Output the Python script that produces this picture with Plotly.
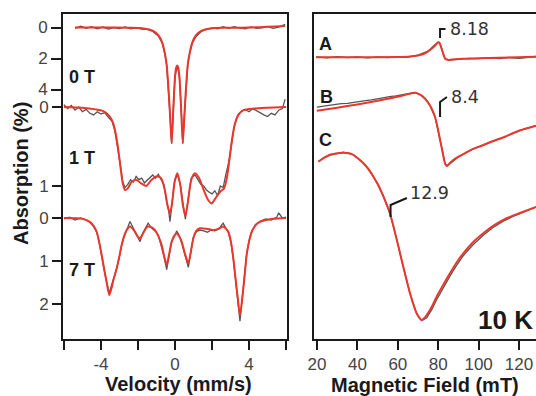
import plotly.graph_objects as go

# ---------------- Mössbauer data (velocity mm/s, absorption %) ----------------
v0_fit = [-5.4, -4.0, -2.5, -1.7, -1.2, -0.9, -0.7, -0.55, -0.45, -0.36, -0.27, -0.18, -0.09, 0.0, 0.06, 0.12,
          0.18, 0.24, 0.33, 0.42, 0.51, 0.6, 0.69, 0.79, 0.94, 1.14, 1.44, 1.94, 2.7, 4.0, 5.95]
a0_fit = [0, 0, 0.02, 0.06, 0.2, 0.5, 0.95, 1.65, 2.4, 3.8, 5.6, 7.45, 5.2, 3.2, 2.6, 2.45,
          2.6, 3.2, 5.2, 7.45, 5.6, 3.8, 2.4, 1.65, 0.95, 0.5, 0.2, 0.06, 0.02, 0, -0.1]
v0_dat = [-5.4, -5.1, -4.8, -4.5, -4.2, -3.9, -3.6, -3.3, -3.0, -2.7, -2.4, -2.1, -1.8, -1.5, -1.2, -0.9, -0.7,
          -0.55, -0.45, -0.36, -0.27, -0.18, -0.09, 0.0, 0.12, 0.24, 0.33, 0.42, 0.51, 0.6, 0.69, 0.79, 0.94,
          1.14, 1.44, 1.7, 2.0, 2.3, 2.6, 2.9, 3.2, 3.5, 3.8, 4.1, 4.4, 4.7, 5.0, 5.3, 5.6, 5.95]
a0_dat = [0.05, -0.08, 0.06, -0.05, 0.08, -0.03, 0.1, 0.0, 0.07, -0.04, 0.09, 0.02, 0.1, 0.12, 0.25, 0.55, 0.98,
          1.7, 2.45, 3.85, 5.65, 7.5, 5.2, 3.2, 2.45, 3.2, 5.2, 7.5, 5.65, 3.85, 2.4, 1.7, 1.0,
          0.58, 0.25, 0.1, 0.02, 0.08, -0.05, 0.06, -0.06, 0.04, 0.08, -0.04, 0.05, 0.02, -0.06, 0.05, -0.03, -0.2]

v1_fit = [-6.0, -5.0, -4.3, -3.9, -3.6, -3.4, -3.25, -3.1, -2.95, -2.82, -2.7, -2.55, -2.35, -2.1, -1.8, -1.55,
          -1.3, -1.0, -0.75, -0.55, -0.4, -0.27, -0.15, -0.02, 0.13, 0.28, 0.43, 0.56, 0.7, 0.88, 1.08, 1.3,
          1.55, 1.8, 1.98, 2.2, 2.45, 2.65, 2.8, 2.95, 3.1, 3.25, 3.45, 3.7, 4.3, 5.0, 6.0]
a1_fit = [0.0, 0.01, 0.03, 0.05, 0.1, 0.17, 0.28, 0.48, 0.75, 0.97, 1.05, 1.03, 0.95, 0.92, 0.97, 1.0,
          0.93, 0.88, 0.9, 1.05, 1.25, 1.35, 1.2, 0.95, 0.84, 0.98, 1.25, 1.38, 1.2, 0.92, 0.84, 0.9,
          1.05, 1.18, 1.22, 1.15, 1.07, 1.03, 0.9, 0.65, 0.38, 0.2, 0.09, 0.04, 0.02, 0.01, 0.0]
v1_dat = [-6.0, -5.8, -5.6, -5.4, -5.2, -5.0, -4.8, -4.6, -4.4, -4.2, -4.0, -3.8, -3.6, -3.4, -3.25, -3.1, -2.95,
          -2.82, -2.7, -2.55, -2.4, -2.25, -2.1, -1.95, -1.8, -1.65, -1.5, -1.35, -1.2, -1.05, -0.9, -0.75, -0.6,
          -0.45, -0.35, -0.27, -0.15, -0.02, 0.13, 0.28, 0.43, 0.56, 0.7, 0.88, 1.08, 1.25, 1.4, 1.55, 1.7, 1.85,
          2.0, 2.15, 2.3, 2.45, 2.6, 2.75, 2.9, 3.05, 3.2, 3.4, 3.6, 3.8, 4.0, 4.2, 4.4, 4.6, 4.8, 5.0, 5.2, 5.4,
          5.6, 5.8, 5.95]
a1_dat = [-0.03, 0.02, -0.02, 0.04, 0.0, 0.06, 0.03, 0.08, 0.1, 0.06, 0.09, 0.07, 0.13, 0.18, 0.3, 0.5, 0.74,
          0.95, 1.02, 0.98, 0.92, 0.95, 0.88, 0.92, 0.9, 0.96, 0.93, 0.9, 0.86, 0.9, 0.85, 0.92, 0.98,
          1.2, 1.3, 1.45, 1.18, 0.93, 0.86, 0.97, 1.22, 1.42, 1.18, 0.9, 0.86, 0.92, 0.98, 1.0, 1.05, 1.08,
          1.1, 1.06, 1.12, 1.0, 1.02, 0.85, 0.7, 0.48, 0.25, 0.1, 0.05, 0.03, 0.06, 0.02, 0.05, 0.08, 0.1, 0.12,
          0.08, 0.1, 0.04, 0.02, -0.1]

v7_fit = [-6.0, -5.0, -4.6, -4.4, -4.23, -4.1, -3.96, -3.82, -3.69, -3.55, -3.44, -3.33, -3.15, -3.0, -2.88,
          -2.75, -2.61, -2.43, -2.2, -2.0, -1.89, -1.75, -1.49, -1.25, -1.08, -0.9, -0.72, -0.58, -0.45, -0.32,
          -0.18, -0.02, 0.09, 0.22, 0.36, 0.55, 0.72, 0.85, 0.99, 1.15, 1.35, 1.7, 2.07, 2.4, 2.61, 2.88, 3.02,
          3.15, 3.27, 3.37, 3.51, 3.6, 3.69, 3.78, 3.87, 4.0, 4.15, 4.35, 4.59, 5.3, 6.0]
a7_fit = [0.0, 0.02, 0.09, 0.18, 0.32, 0.55, 0.86, 1.2, 1.5, 1.79, 1.65, 1.45, 1.17, 0.88, 0.63,
          0.42, 0.28, 0.2, 0.3, 0.44, 0.47, 0.38, 0.2, 0.22, 0.28, 0.42, 0.63, 0.9, 1.09, 0.85,
          0.55, 0.4, 0.36, 0.42, 0.55, 0.85, 1.05, 0.8, 0.47, 0.3, 0.24, 0.25, 0.28, 0.24, 0.2, 0.32, 0.55,
          0.94, 1.4, 1.79, 2.26, 2.0, 1.64, 1.25, 0.86, 0.55, 0.32, 0.17, 0.09, 0.02, 0.0]
v7_dat = [-6.0, -5.7, -5.4, -5.1, -4.8, -4.6, -4.4, -4.23, -4.1, -3.96, -3.82, -3.69, -3.55, -3.44, -3.33, -3.15,
          -3.0, -2.88, -2.75, -2.61, -2.43, -2.2, -2.0, -1.89, -1.75, -1.6, -1.45, -1.25, -1.08, -0.9, -0.72,
          -0.58, -0.45, -0.32, -0.18, -0.02, 0.09, 0.22, 0.36, 0.55, 0.72, 0.85, 0.99, 1.15, 1.35, 1.55, 1.75,
          1.95, 2.15, 2.35, 2.6, 2.88, 3.02, 3.15, 3.27, 3.37, 3.51, 3.6, 3.69, 3.78, 3.87, 4.0, 4.15, 4.35, 4.6,
          4.9, 5.2, 5.5, 5.6, 5.8, 6.0]
a7_dat = [0.02, -0.02, 0.05, 0.0, 0.04, 0.1, 0.2, 0.33, 0.56, 0.85, 1.22, 1.5, 1.75, 1.58, 1.42, 1.18,
          0.9, 0.62, 0.44, 0.26, 0.08, 0.28, 0.45, 0.55, 0.36, 0.25, 0.12, 0.24, 0.3, 0.4, 0.66,
          0.92, 1.2, 0.84, 0.55, 0.42, 0.3, 0.4, 0.58, 0.88, 1.15, 0.8, 0.45, 0.32, 0.28, 0.3, 0.33,
          0.28, 0.3, 0.26, 0.12, 0.34, 0.56, 0.95, 1.42, 1.8, 2.4, 2.0, 1.62, 1.26, 0.85, 0.52, 0.3, 0.15, 0.08,
          0.02, 0.05, -0.02, -0.12, 0.0, -0.02]

# ---------------- EPR data (field mT, signal a.u.) ----------------
bA_fit = [19.5, 40, 60, 66, 70, 72.6, 75, 77.6, 79, 80, 80.6, 81.2, 82, 82.8, 83.6, 85, 88, 92.4, 100, 110, 128.4]
sA_fit = [0, 0, 0.003, 0.008, 0.018, 0.033, 0.06, 0.1, 0.13, 0.15, 0.145, 0.115, 0.065, 0.015, -0.018, -0.026,
          -0.02, -0.014, -0.01, -0.005, 0.006]
bA_dat = [19.5, 25, 30, 35, 40, 45, 50, 55, 60, 65, 70, 75, 78, 80, 81, 82, 83.4, 85.8, 90, 95, 100, 105, 110,
          115, 120, 125, 128.4]
sA_dat = [0.005, -0.005, 0.006, -0.004, 0.004, -0.006, 0.005, -0.003, 0.006, 0.002, 0.022, 0.062, 0.12, 0.152,
          0.13, 0.06, -0.015, -0.028, -0.018, -0.01, -0.014, -0.004, -0.012, -0.002, -0.01, 0.004, 0.008]

bB_fit = [19.9, 30, 41.3, 55, 62, 66, 68.5, 71, 73.5, 76, 78.4, 79.7, 80.9, 82.2, 83.4, 84.3, 85.5, 87, 90, 93.3,
          97, 101.5, 107, 113, 120, 128.4]
sB_fit = [0, 0.03, 0.067, 0.12, 0.15, 0.17, 0.18, 0.16, 0.12, 0.05, -0.06, -0.17, -0.29, -0.42, -0.53, -0.553,
          -0.53, -0.5, -0.46, -0.425, -0.385, -0.35, -0.305, -0.26, -0.2, -0.15]
bB_dat = [19.9, 23, 26, 29, 32, 35, 38, 41, 44, 47, 50, 53, 56, 59, 62, 65, 68.5, 71, 73.5, 76, 78.4, 80.9, 83.4,
          84.3, 85.5, 87, 90, 93.3, 97, 101.5, 107, 113, 120, 128.4]
sB_dat = [0.035, 0.045, 0.05, 0.058, 0.07, 0.074, 0.085, 0.09, 0.1, 0.108, 0.12, 0.128, 0.14, 0.148, 0.158, 0.168,
          0.182, 0.162, 0.122, 0.05, -0.062, -0.292, -0.53, -0.553, -0.535, -0.505, -0.462, -0.425, -0.385, -0.35,
          -0.303, -0.262, -0.2, -0.15]

bC = [20.7, 24, 26.4, 30, 33, 36, 38, 40.5, 43, 45.5, 47.9, 50.5, 52.9, 56.1, 59.5, 62.7, 66, 69.3, 71.8, 74.3,
      76.8, 79.2, 82.5, 85.8, 89, 92.4, 97, 102.3, 107, 112.2, 117, 122.1, 128.8]
sC_fit = [0, 0.045, 0.067, 0.085, 0.09, 0.085, 0.067, 0.03, -0.016, -0.075, -0.15, -0.24, -0.35, -0.516, -0.783,
          -1.05, -1.316, -1.516, -1.583, -1.533, -1.45, -1.35, -1.23, -1.116, -1.01, -0.916, -0.81, -0.716, -0.645,
          -0.583, -0.54, -0.5, -0.45]
sC_dat = [0.005, 0.04, 0.072, 0.08, 0.095, 0.08, 0.07, 0.026, -0.012, -0.078, -0.146, -0.244, -0.346, -0.52, -0.78,
          -1.054, -1.312, -1.52, -1.59, -1.56, -1.48, -1.38, -1.26, -1.145, -1.04, -0.94, -0.835, -0.735, -0.66,
          -0.595, -0.548, -0.505, -0.45]

vel_ticks = [-6, -4, -2, 0, 2, 4, 6]
vel_ticktext = ["", "-4", "", "0", "", "4", ""]
field_ticks = [20, 40, 60, 80, 100, 120]

# ---------------- layout constants ----------------
W, H = 536, 396
TOP, BOT = 14, 339
RED = "#e8372c"
GRAY = "#555555"
FONT = "Arial, Liberation Sans, Helvetica, sans-serif"
WIDEFONT = "DejaVu Sans, Verdana, sans-serif"


def px_x(p):
    return p / W


def px_y(p):
    return 1 - p / H


def yrange(base_px, px_per_unit):
    return [(BOT - base_px) / px_per_unit, (TOP - base_px) / px_per_unit]


offA, offB, offC = 2.817, 2.283, 1.773

fig = go.Figure()

line_fit = dict(color=RED, width=2, shape="spline", smoothing=0.7)
line_dat = dict(color=GRAY, width=1.3)

for vd, ad, vf, af, ya in [(v0_dat, a0_dat, v0_fit, a0_fit, "y"),
                           (v1_dat, a1_dat, v1_fit, a1_fit, "y2"),
                           (v7_dat, a7_dat, v7_fit, a7_fit, "y3")]:
    fig.add_trace(go.Scatter(x=vd, y=ad, mode="lines", line=line_dat, xaxis="x", yaxis=ya, showlegend=False))
    fig.add_trace(go.Scatter(x=vf, y=af, mode="lines", line=line_fit, xaxis="x", yaxis=ya, showlegend=False))

for bd, sd, bf, sf, off in [(bA_dat, sA_dat, bA_fit, sA_fit, offA),
                            (bB_dat, sB_dat, bB_fit, sB_fit, offB),
                            (bC, sC_dat, bC, sC_fit, offC)]:
    fig.add_trace(go.Scatter(x=bd, y=[off + s for s in sd], mode="lines", line=line_dat,
                             xaxis="x2", yaxis="y4", showlegend=False))
    fig.add_trace(go.Scatter(x=bf, y=[off + s for s in sf], mode="lines", line=line_fit,
                             xaxis="x2", yaxis="y4", showlegend=False))

tickfont = dict(family=FONT, size=17, color="#444444")
ydom = [px_y(BOT), px_y(TOP)]
axline = dict(showline=True, linecolor="#1a1a1a", linewidth=2, showgrid=False, zeroline=False)
ytick = dict(ticks="outside", ticklen=10, tickwidth=2, tickcolor="#1a1a1a", tickfont=tickfont,
             automargin=False, showgrid=False, zeroline=False)

fig.update_layout(
    width=W, height=H, margin=dict(l=0, r=0, t=0, b=0),
    paper_bgcolor="white", plot_bgcolor="white",
    xaxis=dict(domain=[px_x(63), px_x(287)], range=[-6.05, 6.05], anchor="y", mirror=True,
               tickvals=vel_ticks, ticktext=vel_ticktext, ticks="outside", ticklen=9, tickwidth=2,
               tickcolor="#1a1a1a", tickfont=tickfont, automargin=False, **axline),
    yaxis=dict(domain=ydom, range=yrange(27.5, 15.5), anchor="x", mirror=True, tickvals=[0, 2, 4],
               showline=True, linecolor="#1a1a1a", linewidth=2, **ytick),
    yaxis2=dict(overlaying="y", range=yrange(107, 79), anchor="x", showline=False, tickvals=[0, 1], **ytick),
    yaxis3=dict(overlaying="y", range=yrange(218, 43), anchor="x", showline=False, tickvals=[0, 1, 2], **ytick),
    xaxis2=dict(domain=[px_x(314), 1.0], range=[18.5, 128.4], anchor="y4", mirror=True,
                tickvals=field_ticks, ticks="outside", ticklen=9, tickwidth=2, tickcolor="#1a1a1a",
                tickfont=tickfont, automargin=False, **axline),
    yaxis4=dict(domain=ydom, range=[0, (BOT - TOP) / 100], anchor="x2", mirror=False,
                showticklabels=False, ticks="", automargin=False, **axline),
)


# brackets for g-value markers (in EPR axis coordinates)
def bracket(x0, y0, x1, y1, x2, y2):
    return dict(type="path", xref="x2", yref="y4",
                path=f"M {x0},{y0} L {x1},{y1} L {x2},{y2}",
                line=dict(color="#1a1a1a", width=2))


fig.update_layout(shapes=[
    bracket(80.9, 3.01, 80.9, 3.1, 83.6, 3.1),
    bracket(80.9, 2.22, 80.9, 2.37, 84.3, 2.42),
    bracket(56.4, 1.22, 56.4, 1.34, 64.5, 1.41),
])

annots = []


def txt(text, x, y, size, bold=False, xanchor="center", xref="paper", yref="paper", angle=0,
        color="#1a1a1a", family=FONT):
    annots.append(dict(text=f"<b>{text}</b>" if bold else text, x=x, y=y, xref=xref, yref=yref,
                       xanchor=xanchor, yanchor="middle", showarrow=False, textangle=angle,
                       font=dict(family=family, size=size, color=color)))


txt("8.18", 84.9, 3.1, 17.5, xref="x2", yref="y4", xanchor="left", color="#333", family=WIDEFONT)
txt("8.4", 85.3, 2.42, 17.5, xref="x2", yref="y4", xanchor="left", color="#333", family=WIDEFONT)
txt("12.9", 65.0, 1.46, 17.5, xref="x2", yref="y4", xanchor="left", color="#333", family=WIDEFONT)
txt("A", px_x(325.5), px_y(43.5), 18, bold=True)
txt("B", px_x(326), px_y(97), 18, bold=True)
txt("C", px_x(325.5), px_y(140), 18, bold=True)
txt("10 K", px_x(505), px_y(320), 26, bold=True)
txt("0 T", px_x(82), px_y(77), 18, bold=True)
txt("1 T", px_x(82), px_y(158), 18, bold=True)
txt("7 T", px_x(82), px_y(270), 18, bold=True)
txt("Velocity (mm/s)", px_x(178), px_y(384), 20, bold=True)
txt("Magnetic Field (mT)", px_x(425), px_y(385), 20, bold=True)
txt("Absorption (%)", px_x(21), px_y(174), 20, bold=True, angle=-90)
fig.update_layout(annotations=annots)

fig.write_html("out.html", config={"displayModeBar": False},
               post_script="document.body.style.margin='0';document.body.style.padding='0';")
